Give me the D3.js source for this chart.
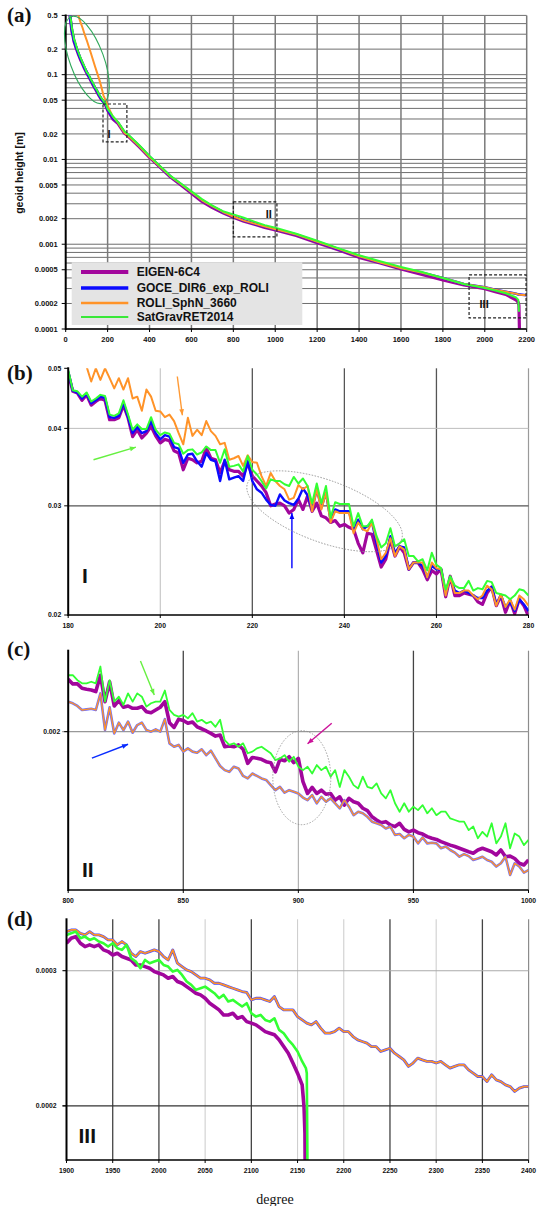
<!DOCTYPE html>
<html>
<head>
<meta charset="utf-8">
<script src="https://cdn.jsdelivr.net/npm/d3@7"></script>
<style>
  body { margin: 0; background: #fff; }
  svg { display: block; font-family: "Liberation Sans", Arial, sans-serif; }
</style>
</head>
<body>
<svg id="chart" width="540" height="1206"></svg>
<script>
// ---------- data ----------
// panel (a): overview, degree 0..2200
var aDeg = [18,20,25,30,35,40,45,50,55,60, 70,80,90,100,110,120,130,140,150,160,
  170,180,190,200,225,250,280,300,350,400, 450,500,550,600,650,700,750,800,850,900,
  950,1000,1100,1200,1300,1400,1500,1600,1700,1800, 1900,2000,2050,2100,2150,2160,2163,2166,2200];
var aEigen = [.55,.50,.40,.32,.285,.245,.225,.205,.19,.176, .152,.134,.118,.105,.095,.085,.076,.069,.062,.056,
  .051,.048,.044,.038,.030,.0265,.0205,.0186,.0142,.0106, .0081,.0062,.0050,.0040,.0032,.0027,.00235,.00208,.00187,.00172,
  .00158,.00147,.00127,.00104,.00086,.0007,.0006,.00051,.00044,.00038, .00033,.000298,.000276,.000256,.00022,.000205,.00019,.00008,null];
var aGoce = [.56,.51,.41,.33,.29,.25,.23,.21,.195,.18, .155,.137,.12,.108,.097,.087,.078,.07,.064,.057,
  .052,.048,.045,.039,.031,.027,.021,.019,.0145,.0108, .0082,.0063,.0051,.0041,.0033,.0028,.0024,.00212,.0019,.00175,
  .00162,.0015,.0013,.00107,.00088,.00072,.00061,.00052,.00046,.0004, .00034,.00031,.00029,.000275,.00026,.000256,.000255,.000255,.00025];
var aRoli = [null,null,null,null,null,null,null,null,.56,.50, .42,.36,.30,.256,.215,.18,.15,.125,.105,.088,
  .072,.057,.05,.043,.032,.027,.0207,.0188,.0144,.0107, .0082,.0063,.0051,.0041,.0033,.0028,.0024,.00212,.0019,.00175,
  .00162,.0015,.0013,.00107,.00088,.00072,.00061,.00052,.00046,.0004, .00034,.00031,.00029,.000275,.00026,.000256,.000255,.000254,.00025];
var aSat = [null,.50,.44,.35,.31,.26,.245,.22,.20,.185, .16,.14,.124,.108,.10,.088,.080,.071,.065,.058,
  .053,.049,.0455,.0395,.0325,.0276,.0215,.0195,.0148,.011, .0084,.0064,.0052,.0042,.0034,.00285,.00245,.00225,.00205,.00185,
  .00168,.00157,.00133,.0011,.0009,.00074,.00063,.00054,.00047,.0004, .00034,.000305,.000285,.000264,.000235,.00022,.00016,null,null];
var aYLabels = [0.5,0.2,0.1,0.05,0.02,0.01,0.005,0.002,0.001,0.0005,0.0002,0.0001];
var aXTicks = [0,200,400,600,800,1000,1200,1400,1600,1800,2000,2200];

// panel (b): zoom I, degree 180..280
var bDeg = d3.range(180, 281);
var bEigen = [.0491,.0459,.0456,.0444,.0453,.0436,.0442,.0447,.0444,.0413,.0413,.0416,.0436,.0416,.0388,.0398,.0386,.0393,.0403,.0389,
  .0379,.0384,.0382,.0368,.0365,.0343,.0358,.0356,.0352,.0354,.0372,.0358,.0356,.0339,.0354,.0343,.0341,.0341,.0335,.0352,
  .0335,.0329,.0323,.0315,.0300,.0302,.0303,.0300,.0292,.0296,.0307,.0296,.0311,.0294,.0303,.0289,.0287,.0282,.0284,.0278,
  .0280,.0277,.0275,.0261,.0252,.0271,.0270,.0254,.0239,.0246,.0265,.0249,.0258,.0252,.0237,.0243,.0243,.0237,.0228,.0236,
  .0233,.0237,.0214,.0231,.0215,.0215,.0217,.0216,.0215,.0210,.0208,.0217,.0222,.0207,.0215,.0202,.0211,.0201,.0212,.0207,
  .0199];
var bGoce = [.0494,.0460,.0457,.0447,.0455,.0439,.0444,.0450,.0448,.0417,.0416,.0419,.0440,.0417,.0393,.0402,.0393,.0396,.0411,.0393,
  .0384,.0390,.0388,.0373,.0371,.0352,.0363,.0364,.0354,.0347,.0365,.0356,.0354,.0329,.0356,.0331,.0333,.0335,.0329,.0354,
  .0329,.0319,.0315,.0307,.0301,.0300,.0313,.0306,.0303,.0301,.0308,.0320,.0312,.0296,.0319,.0298,.0315,.0284,.0296,.0294,
  .0294,.0294,.0275,.0285,.0275,.0278,.0282,.0261,.0243,.0249,.0268,.0252,.0258,.0257,.0237,.0243,.0243,.0240,.0230,.0240,
  .0237,.0237,.0216,.0230,.0219,.0217,.0219,.0217,.0215,.0213,.0213,.0219,.0222,.0208,.0215,.0206,.0210,.0203,.0212,.0208,
  .0203];
var bRoli = [.0535,.0540,.0529,.0516,.0503,.0476,.0500,.0479,.0500,.0482,.0464,.0482,.0462,.0482,.0447,.0450,.0427,.0462,.0450,.0427,
  .0426,.0417,.0421,.0411,.0393,.0377,.0416,.0389,.0398,.0390,.0411,.0396,.0389,.0377,.0379,.0356,.0358,.0361,.0348,.0362,
  .0353,.0352,.0335,.0323,.0339,.0329,.0323,.0319,.0307,.0309,.0324,.0319,.0323,.0294,.0319,.0296,.0315,.0282,.0294,.0292,
  .0292,.0292,.0271,.0282,.0275,.0273,.0282,.0265,.0246,.0252,.0266,.0249,.0258,.0255,.0237,.0243,.0243,.0243,.0230,.0243,
  .0238,.0237,.0215,.0230,.0217,.0217,.0219,.0219,.0215,.0212,.0215,.0223,.0220,.0207,.0216,.0206,.0212,.0204,.0215,.0212,
  .0207];
var bSat = [.0497,.0461,.0459,.0450,.0457,.0442,.0447,.0453,.0451,.0421,.0419,.0423,.0444,.0421,.0398,.0406,.0399,.0399,.0417,.0398,
  .0390,.0394,.0392,.0379,.0377,.0364,.0369,.0370,.0363,.0366,.0374,.0369,.0369,.0352,.0370,.0347,.0348,.0350,.0341,.0361,
  .0343,.0337,.0329,.0320,.0331,.0329,.0329,.0325,.0323,.0334,.0326,.0332,.0323,.0303,.0326,.0303,.0323,.0287,.0304,.0302,
  .0302,.0302,.0278,.0292,.0278,.0278,.0285,.0268,.0257,.0261,.0276,.0258,.0261,.0265,.0249,.0249,.0244,.0246,.0236,.0252,
  .0241,.0238,.0220,.0231,.0223,.0221,.0221,.0227,.0219,.0221,.0220,.0227,.0226,.0217,.0216,.0215,.0212,.0215,.0220,.0219,
  .0215];

// panel (c): zoom II, degree 800..1000 (every 2nd degree)
var cDeg = d3.range(800, 1001, 2);
var cEigen = [.002250,.002227,.002227,.002205,.002200,.002197,.002189,.002271,.002140,.002238,.002119,.002145,.002113,.002119,.002108,.002108,.002116,.002092,.002087,.002100,
  .002113,.002140,.002041,.002019,.002057,.002051,.002038,.002044,.002022,.002013,.002003,.001992,.001980,.001985,.001933,.001936,.001933,.001941,.001922,.001862,
  .001887,.001884,.001879,.001869,.001865,.001827,.001879,.001873,.001890,.001865,.001883,.001787,.001740,.001764,.001740,.001753,.001737,.001740,.001714,.001727,
  .001695,.001721,.001708,.001702,.001683,.001674,.001651,.001639,.001629,.001633,.001621,.001615,.001627,.001605,.001596,.001602,.001593,.001588,.001579,.001573,
  .001569,.001561,.001555,.001549,.001544,.001538,.001532,.001526,.001521,.001532,.001538,.001532,.001526,.001515,.001532,.001509,.001511,.001503,.001487,.001481,
  .001498];
// GOCE_DIR6_exp_ROLI and ROLI_SphN_3660 coincide in this range
var cGoceRoli = [.002140,.002132,.002119,.002100,.002103,.002106,.002100,.002180,.002007,.002113,.001992,.002041,.002007,.002046,.001995,.002030,.002041,.002007,.002000,.002010,
  .002000,.002057,.001948,.001933,.001941,.001912,.001926,.001912,.001907,.001922,.001897,.001916,.001883,.001851,.001834,.001827,.001848,.001841,.001810,.001800,
  .001820,.001810,.001800,.001794,.001773,.001753,.001766,.001743,.001753,.001747,.001740,.001724,.001714,.001734,.001702,.001727,.001708,.001721,.001702,.001683,
  .001714,.001689,.001657,.001670,.001664,.001651,.001633,.001627,.001621,.001608,.001615,.001585,.001588,.001573,.001585,.001579,.001555,.001576,.001555,.001557,
  .001555,.001538,.001544,.001532,.001523,.001509,.001518,.001511,.001498,.001503,.001509,.001498,.001492,.001476,.001487,.001509,.001448,.001487,.001476,.001456,
  .001464];
var cSat = [.002271,.002271,.002246,.002230,.002230,.002238,.002230,.002316,.002140,.002246,.002140,.002164,.002124,.002180,.002140,.002180,.002164,.002116,.002132,.002140,
  .002140,.002194,.002100,.002077,.002069,.002077,.002061,.002085,.002046,.002054,.002038,.002046,.002022,.002054,.001962,.001941,.001948,.001933,.001948,.001905,
  .001912,.001926,.001933,.001919,.001905,.001876,.001883,.001897,.001869,.001890,.001848,.001834,.001848,.001820,.001855,.001834,.001848,.001807,.001834,.001766,
  .001834,.001807,.001773,.001760,.001807,.001766,.001760,.001780,.001740,.001721,.001753,.001702,.001670,.001702,.001670,.001689,.001676,.001695,.001664,.001683,
  .001657,.001670,.001670,.001645,.001639,.001633,.001633,.001602,.001615,.001573,.001596,.001579,.001627,.001555,.001579,.001627,.001538,.001590,.001579,.001549,
  .001567];

// panel (d): zoom III, degree 1900..2400 (every 5th degree)
var dDeg = d3.range(1900, 2401, 5);
var dGoceRoli = [.0003373,.0003390,.0003390,.0003356,.0003340,.0003373,.0003340,.0003340,.0003323,.0003290,
  .0003290,.0003241,.0003274,.0003241,.0003161,.0003130,.0003177,.0003161,.0003177,.0003193,
  .0003177,.0003130,.0003098,.0003193,.0003068,.0003037,.0003007,.0002992,.0002962,.0002933,
  .0002933,.0002918,.0002889,.0002889,.0002875,.0002860,.0002846,.0002832,.0002818,.0002810,
  .0002748,.0002762,.0002762,.0002748,.0002735,.0002776,.0002694,.0002667,.0002667,.0002667,
  .0002614,.0002588,.0002563,.0002550,.0002575,.0002525,.0002487,.0002487,.0002499,.0002525,
  .0002499,.0002499,.0002462,.0002438,.0002426,.0002414,.0002389,.0002389,.0002354,.0002366,
  .0002377,.0002342,.0002319,.0002296,.0002251,.0002274,.0002308,.0002296,.0002285,.0002285,
  .0002274,.0002285,.0002262,.0002240,.0002251,.0002262,.0002262,.0002228,.0002206,.0002184,
  .0002184,.0002151,.0002195,.0002162,.0002151,.0002130,.0002119,.0002088,.0002109,.0002119,
  .0002119];
var dDegEigen = d3.range(1900, 2156, 5).concat([2157, 2158, 2159]);
var dEigen = [.0003258,.0003307,.0003323,.0003258,.0003225,.0003241,.0003225,.0003241,.0003193,.0003177,
  .0003145,.0003161,.0003130,.0003114,.0003098,.0003052,.0003052,.0003037,.0003022,.0002992,
  .0002977,.0002962,.0002933,.0002948,.0002904,.0002889,.0002860,.0002832,.0002804,.0002790,
  .0002762,.0002721,.0002694,.0002667,.0002627,.0002627,.0002640,.0002601,.0002614,.0002575,
  .0002563,.0002550,.0002525,.0002499,.0002487,.0002475,.0002438,.0002389,.0002342,.0002274,
  .0002206,.0002130,.0001996,.0001843,.00012];
var dDegSat = d3.range(1900, 2156, 5).concat([2159, 2160, 2161]);
var dSat = [.0003340,.0003356,.0003373,.0003307,.0003323,.0003290,.0003307,.0003274,.0003258,.0003225,
  .0003258,.0003209,.0003193,.0003241,.0003114,.0003083,.0003022,.0003098,.0003068,.0003083,
  .0003098,.0003052,.0003037,.0002992,.0003007,.0002962,.0002904,.0002875,.0002832,.0002846,
  .0002860,.0002832,.0002804,.0002762,.0002790,.0002735,.0002748,.0002721,.0002694,.0002721,
  .0002640,.0002614,.0002627,.0002588,.0002575,.0002601,.0002512,.0002487,.0002438,.0002401,
  .0002354,.0002285,.0002240,.0002206,.00015];

var legendNames = ["EIGEN-6C4", "GOCE_DIR6_exp_ROLI", "ROLI_SphN_3660", "SatGravRET2014"];
var colors = { eigen: "#a1069c", goce: "#0a0aff", roli: "#ff9328", sat: "#33ff33" };
var SERIF = "'Liberation Serif', 'Times New Roman', serif";

var svg = d3.select("#chart");
var defs = svg.append("defs");

// ---------- helpers ----------
function addClip(id, x, y) {
  defs.append("clipPath").attr("id", id).append("rect")
    .attr("x", x.range()[0]).attr("y", y.range()[1])
    .attr("width", x.range()[1] - x.range()[0]).attr("height", y.range()[0] - y.range()[1]);
}

function drawSeries(g, x, y, deg, vals, color, width) {
  var line = d3.line()
    .defined(function(d) { return d[1] != null; })
    .x(function(d) { return x(d[0]); })
    .y(function(d) { return y(d[1]); });
  g.append("path")
    .datum(deg.map(function(d, i) { return [d, vals[i]]; }))
    .attr("d", line)
    .attr("fill", "none")
    .attr("stroke", color)
    .attr("stroke-width", width)
    .attr("stroke-linejoin", "round");
}

function vGrid(x, y, list, color, width) {
  svg.append("g").selectAll("line").data(list).enter().append("line")
    .attr("x1", function(d) { return x(d); }).attr("x2", function(d) { return x(d); })
    .attr("y1", y.range()[1]).attr("y2", y.range()[0])
    .attr("stroke", color).attr("stroke-width", width);
}

function hGrid(x, y, list, color, width, ext) {
  svg.append("g").selectAll("line").data(list).enter().append("line")
    .attr("x1", x.range()[0] - (ext || 0)).attr("x2", x.range()[1])
    .attr("y1", function(d) { return y(d); }).attr("y2", function(d) { return y(d); })
    .attr("stroke", color).attr("stroke-width", width);
}

function frame(x, y) {
  svg.append("line").attr("x1", x.range()[0]).attr("x2", x.range()[0])
    .attr("y1", y.range()[1] - 1).attr("y2", y.range()[0] + 1)
    .attr("stroke", "#000").attr("stroke-width", 2);
  svg.append("line").attr("x1", x.range()[0]).attr("x2", x.range()[1])
    .attr("y1", y.range()[0]).attr("y2", y.range()[0])
    .attr("stroke", "#000").attr("stroke-width", 1.6);
}

function xLabels(x, y, ticks, size) {
  var g = svg.append("g");
  g.selectAll("line").data(ticks).enter().append("line")
    .attr("x1", function(d) { return x(d); }).attr("x2", function(d) { return x(d); })
    .attr("y1", y.range()[0]).attr("y2", y.range()[0] + 3)
    .attr("stroke", "#000").attr("stroke-width", 1);
  g.selectAll("text").data(ticks).enter().append("text")
    .attr("x", function(d) { return x(d); })
    .attr("y", y.range()[0] + 12.5)
    .attr("text-anchor", "middle")
    .attr("font-size", size).attr("font-weight", "bold").attr("fill", "#111")
    .text(function(d) { return d; });
}

function yLabels(x, y, ticks, size, dx) {
  var g = svg.append("g");
  g.selectAll("line").data(ticks).enter().append("line")
    .attr("x1", x.range()[0] - 4).attr("x2", x.range()[0])
    .attr("y1", function(d) { return y(d); }).attr("y2", function(d) { return y(d); })
    .attr("stroke", "#000").attr("stroke-width", 1);
  g.selectAll("text").data(ticks).enter().append("text")
    .attr("x", x.range()[0] - dx)
    .attr("y", function(d) { return y(d) + size * 0.36; })
    .attr("text-anchor", "end")
    .attr("font-size", size).attr("font-weight", "bold").attr("fill", "#111")
    .text(function(d) { return String(d); });
}

function panelLabel(txt, px, py) {
  svg.append("text").attr("x", px).attr("y", py)
    .style("font-family", SERIF)
    .attr("font-size", 21).attr("font-weight", "bold").attr("fill", "#111")
    .text(txt);
}

function roman(txt, px, py, size) {
  svg.append("text").attr("x", px).attr("y", py)
    .attr("font-size", size).attr("font-weight", "bold").attr("fill", "#111")
    .text(txt);
}

function arrow(x1, y1, x2, y2, color) {
  svg.append("line").attr("x1", x1).attr("y1", y1).attr("x2", x2).attr("y2", y2)
    .attr("stroke", color).attr("stroke-width", 1.4);
  var a = Math.atan2(y2 - y1, x2 - x1), L = 6, s = 2.4;
  var p1 = [x2 - L * Math.cos(a) + s * Math.sin(a), y2 - L * Math.sin(a) - s * Math.cos(a)];
  var p2 = [x2 - L * Math.cos(a) - s * Math.sin(a), y2 - L * Math.sin(a) + s * Math.cos(a)];
  svg.append("path").attr("d", "M" + x2 + "," + y2 + "L" + p1 + "L" + p2 + "Z").attr("fill", color);
}

function ellipse(cx, cy, rx, ry, rot, color, dash, width) {
  svg.append("ellipse")
    .attr("transform", "translate(" + cx + "," + cy + ") rotate(" + rot + ")")
    .attr("rx", rx).attr("ry", ry)
    .attr("fill", "none").attr("stroke", color).attr("stroke-width", width)
    .attr("stroke-dasharray", dash);
}

function dashBox(x, y, d0, d1, v0, v1) {
  svg.append("rect")
    .attr("x", x(d0)).attr("y", y(v0))
    .attr("width", x(d1) - x(d0)).attr("height", y(v1) - y(v0))
    .attr("fill", "none").attr("stroke", "#222").attr("stroke-width", 1.2)
    .attr("stroke-dasharray", "3,2");
}

// ---------- panel (a) ----------
var ax = d3.scaleLinear().domain([0, 2200]).range([65.7, 526.7]);
var ay = d3.scaleLog().domain([0.0001, 0.5]).range([329, 15.4]);
addClip("clipA", ax, ay);

hGrid(ax, ay, ay.ticks().filter(function(v) { return v <= 0.5; }), "#6e6e6e", 1);
vGrid(ax, ay, aXTicks.slice(1), "#7a7a7a", 1.5);

var ga = svg.append("g").attr("clip-path", "url(#clipA)");
drawSeries(ga, ax, ay, aDeg, aEigen, colors.eigen, 3.2);
drawSeries(ga, ax, ay, aDeg, aGoce, colors.goce, 2.6);
drawSeries(ga, ax, ay, aDeg, aRoli, colors.roli, 2);
drawSeries(ga, ax, ay, aDeg, aSat, colors.sat, 2);

frame(ax, ay);
yLabels(ax, ay, aYLabels, 7.5, 8);
xLabels(ax, ay, aXTicks, 7.5);

svg.append("text")
  .attr("transform", "translate(23,173) rotate(-90)")
  .attr("text-anchor", "middle")
  .attr("font-size", 10.5).attr("font-weight", "bold").attr("fill", "#111")
  .text("geoid height [m]");

// annotations in (a)
ellipse(ax(101), ay(0.149), 17, 46, -20, "#2ea85a", null, 1.1);
dashBox(ax, ay, 178, 292, 0.0451, 0.0161);
dashBox(ax, ay, 800, 1008, 0.00315, 0.00122);
dashBox(ax, ay, 1925, 2197, 0.000434, 0.000135);
roman("I", ax(200), ay(0.018), 11);
roman("II", ax(955), ay(0.00203), 11);
roman("III", ax(1975), ay(0.000175), 11);

// legend
var legend = svg.append("g");
legend.append("rect").attr("x", 71.7).attr("y", 262.3).attr("width", 230.6).attr("height", 62.7)
  .attr("fill", "#e4e4e4");
var legendCols = [colors.eigen, colors.goce, colors.roli, "#39e839"];
var legendW = [4, 3.6, 2.6, 1.8];
var legendY = [272, 288, 303, 317];
legendNames.forEach(function(name, i) {
  legend.append("line").attr("x1", 81).attr("x2", 128.3)
    .attr("y1", legendY[i]).attr("y2", legendY[i])
    .attr("stroke", legendCols[i]).attr("stroke-width", legendW[i]);
  legend.append("text").attr("x", 136.7).attr("y", legendY[i] + 4.3)
    .attr("font-size", 12).attr("font-weight", "bold").attr("fill", "#111")
    .text(name);
});
panelLabel("(a)", 7, 22);

// ---------- panel (b) ----------
var bx = d3.scaleLinear().domain([180, 280]).range([68.2, 528.5]);
var by = d3.scaleLog().domain([0.02, 0.05]).range([615, 368.3]);
addClip("clipB", bx, by);

vGrid(bx, by, [200], "#bdbdbd", 1);
vGrid(bx, by, [220, 240, 260], "#555", 1.3);
vGrid(bx, by, [280], "#9a9a9a", 1.2);
hGrid(bx, by, [0.04], "#bdbdbd", 1);
hGrid(bx, by, [0.03], "#555", 1.3);

var gb = svg.append("g").attr("clip-path", "url(#clipB)");
drawSeries(gb, bx, by, bDeg, bEigen, colors.eigen, 3.2);
drawSeries(gb, bx, by, bDeg, bGoce, colors.goce, 2.4);
drawSeries(gb, bx, by, bDeg, bRoli, colors.roli, 2);
drawSeries(gb, bx, by, bDeg, bSat, colors.sat, 2);

frame(bx, by);
yLabels(bx, by, [0.05, 0.04, 0.03, 0.02], 6.8, 7);
xLabels(bx, by, [180, 200, 220, 240, 260, 280], 6.8);

arrow(bx(203.7), by(0.0485), bx(204.8), by(0.0420), "#ff9933");
arrow(bx(185.5), by(0.0356), bx(194.7), by(0.0373), "#66f040");
arrow(bx(228.6), by(0.0238), bx(228.6), by(0.0292), "#0000ff");
ellipse(bx(235.7), by(0.0294), 82, 31, 20, "#8a8a8a", "1.5,1.5", 0.8);
roman("I", bx(183), by(0.0225), 21);
panelLabel("(b)", 7, 380);

// ---------- panel (c) ----------
var cx = d3.scaleLinear().domain([800, 1000]).range([68.2, 528.5]);
var cy = d3.scaleLog().domain([0.0014, 0.0024]).range([890, 650.7]);
addClip("clipC", cx, cy);

vGrid(cx, cy, [850, 950], "#444", 1.3);
vGrid(cx, cy, [900], "#aaa", 1.1);
vGrid(cx, cy, [1000], "#8c8c8c", 1.2);
hGrid(cx, cy, [0.002], "#999", 1.1, 6);

var gc = svg.append("g").attr("clip-path", "url(#clipC)");
drawSeries(gc, cx, cy, cDeg, cEigen, colors.eigen, 3.6);
drawSeries(gc, cx, cy, cDeg, cGoceRoli, "#6f6fff", 2.6);
drawSeries(gc, cx, cy, cDeg, cGoceRoli, colors.roli, 1.3);
drawSeries(gc, cx, cy, cDeg, cSat, colors.sat, 1.8);

frame(cx, cy);
yLabels(cx, cy, [0.002], 6.8, 8);
xLabels(cx, cy, [800, 850, 900, 950, 1000], 6.8);

arrow(cx(831.4), cy(0.002345), cx(837.4), cy(0.002172), "#66f040");
arrow(cx(810.3), cy(0.001884), cx(826), cy(0.001944), "#0a2cff");
arrow(cx(914.5), cy(0.002038), cx(904), cy(0.001946), "#cc1199");
ellipse(cx(901.5), cy(0.001803), 29, 47, 0, "#8a8a8a", "1.5,1.5", 0.8);
roman("II", cx(806), cy(0.00144), 21);
panelLabel("(c)", 7, 656);

// ---------- panel (d) ----------
var dx = d3.scaleLinear().domain([1900, 2400]).range([66.5, 528.6]);
var dy = d3.scaleLog().domain([0.00017, 0.00035]).range([1160, 919.3]);
addClip("clipD", dx, dy);

vGrid(dx, dy, [1950, 2000, 2100, 2250, 2350], "#444", 1.3);
vGrid(dx, dy, [2050, 2150, 2200, 2300], "#cfcfcf", 1.1);
vGrid(dx, dy, [2400], "#8c8c8c", 1.2);
hGrid(dx, dy, [0.0003], "#aaa", 1.1, 4);
hGrid(dx, dy, [0.0002], "#333", 1.3, 4);

var gd = svg.append("g").attr("clip-path", "url(#clipD)");
drawSeries(gd, dx, dy, dDegEigen, dEigen, colors.eigen, 3.6);
drawSeries(gd, dx, dy, dDeg, dGoceRoli, "#4a4aff", 2.8);
drawSeries(gd, dx, dy, dDeg, dGoceRoli, colors.roli, 1.7);
drawSeries(gd, dx, dy, dDegSat, dSat, colors.sat, 2.6);

frame(dx, dy);
yLabels(dx, dy, [0.0003, 0.0002], 6.8, 10);
xLabels(dx, dy, d3.range(1900, 2401, 50), 6.8);

roman("III", dx(1913), dy(0.000179), 21);
panelLabel("(d)", 7, 926);

svg.append("text").attr("x", 275).attr("y", 1204)
  .attr("text-anchor", "middle")
  .style("font-family", SERIF)
  .attr("font-size", 14).attr("fill", "#111")
  .text("degree");
</script>
</body>
</html>
